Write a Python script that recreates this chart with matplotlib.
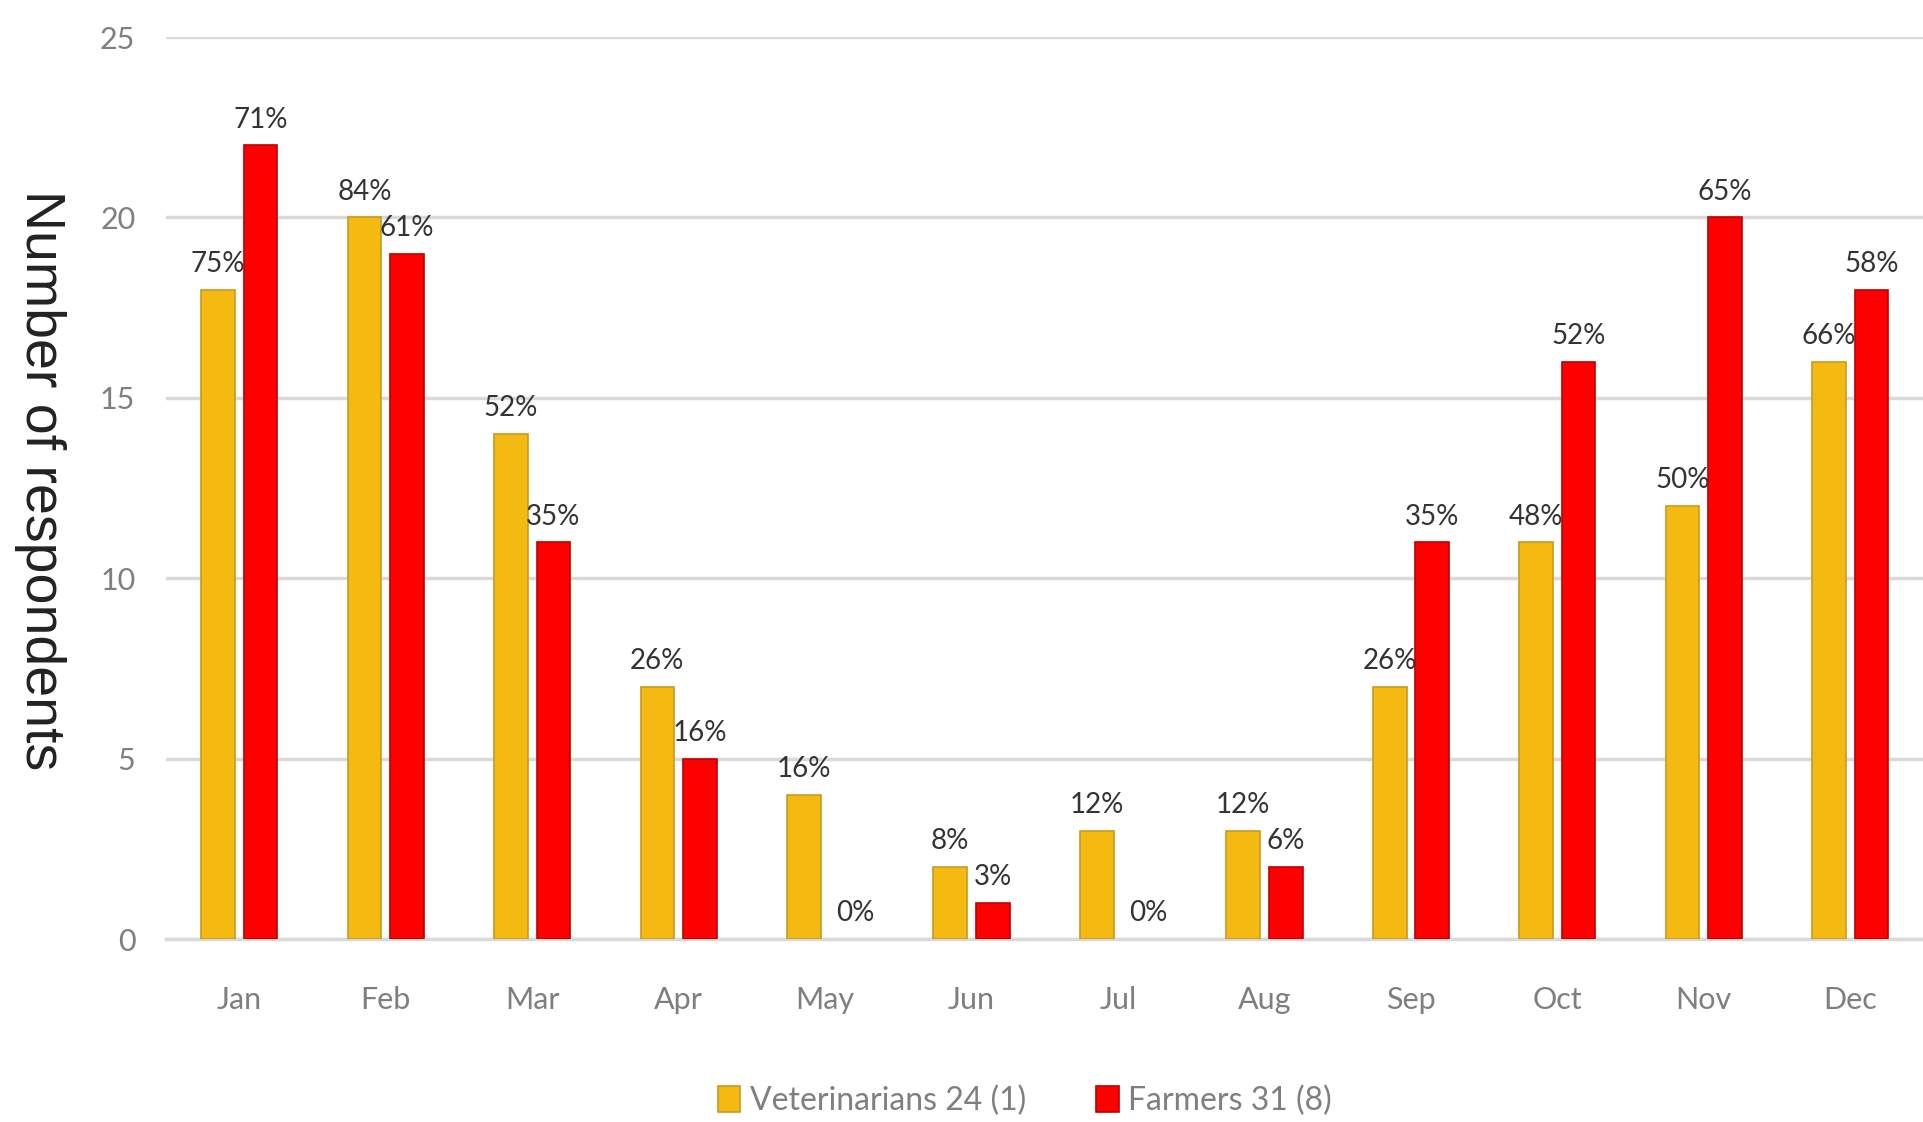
import matplotlib.pyplot as plt
import numpy as np

plt.rcParams['font.family'] = ['Lato', 'DejaVu Sans']

months = ["Jan", "Feb", "Mar", "Apr", "May", "Jun",
          "Jul", "Aug", "Sep", "Oct", "Nov", "Dec"]
vets = [18, 20, 14, 7, 4, 2, 3, 3, 7, 11, 12, 16]
farmers = [22, 19, 11, 5, 0, 1, 0, 2, 11, 16, 20, 18]
vets_pct = [75, 84, 52, 26, 16, 8, 12, 12, 26, 48, 50, 66]
farmers_pct = [71, 61, 35, 16, 0, 3, 0, 6, 35, 52, 65, 58]
yticks = [0, 5, 10, 15, 20, 25]

fig = plt.figure(figsize=(19.23, 11.22), dpi=100)
ax = fig.add_axes([0.0863, 0.163, 0.914, 0.804])

x = np.arange(len(months))
w = 0.23
off = 0.145

ax.bar(x - off, vets, w, color="#F5BA12",
       edgecolor=["#C89A20" if v else "none" for v in vets], linewidth=1.2,
       label="Veterinarians 24 (1)", zorder=3)
ax.bar(x + off, farmers, w, color="#FF0000",
       edgecolor=["#C00000" if v else "none" for v in farmers], linewidth=1.2,
       label="Farmers 31 (8)", zorder=3)

# percentage labels above bars
for xi, v, p in zip(x, vets, vets_pct):
    ax.text(xi - off, v + 0.35, f"{p}%", ha="center", va="bottom",
            fontsize=20, color="#333333", zorder=4)
for xi, v, p in zip(x, farmers, farmers_pct):
    ax.text(xi + off + (0.06 if v == 0 else 0), v + 0.35, f"{p}%",
            ha="center", va="bottom", fontsize=20, color="#333333", zorder=4)

ax.set_xlim(-0.5, 11.5)
ax.set_ylim(0, 25)
ax.set_yticks(yticks)
ax.set_xticks(x)
ax.set_xticklabels(months)
ax.tick_params(axis="both", length=0, labelsize=22, labelcolor="#7f7f7f")
ax.tick_params(axis="x", pad=34)
ax.tick_params(axis="y", pad=22)

ax.grid(axis="y", color="#d9d9d9", linewidth=2.5, zorder=0)
for s in ["top", "right", "left"]:
    ax.spines[s].set_visible(False)
ax.spines["bottom"].set_color("#d9d9d9")
ax.spines["bottom"].set_linewidth(2.5)

fig.text(0.021, 0.572, "Number of respondents", rotation=270, ha="center",
         va="center", fontsize=40, color="#222222",
         family=["Liberation Sans", "DejaVu Sans"])

fig.legend(loc="center", bbox_to_anchor=(0.533, 0.019), ncol=2, frameon=False,
           fontsize=23, labelcolor="#7f7f7f", handlelength=0.7,
           handleheight=0.9, handletextpad=0.3, columnspacing=2.2)

plt.savefig("out.png", dpi=100)
